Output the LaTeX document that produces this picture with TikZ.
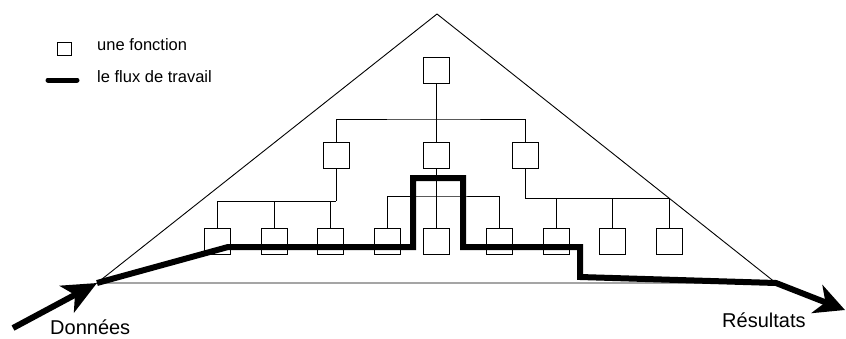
\documentclass[tikz,border=0pt]{standalone}
\usepackage{fontspec}
\setmainfont{Liberation Sans}
\usetikzlibrary{arrows.meta}
\begin{document}
\begin{tikzpicture}[x=1pt,y=-1pt,
  fbox/.style={draw,line width=1pt,minimum size=26pt,inner sep=0pt},
  thin/.style={line width=0.9pt},
  flow/.style={line width=6pt,line join=miter},
  lbl/.style={inner sep=0pt,font=\fontsize{20}{22}\selectfont},
  leg/.style={inner sep=0pt,anchor=west,font=\fontsize{16.5}{18}\selectfont}]
\useasboundingbox (0,0) rectangle (846,338);
% triangle
\coordinate (apex) at (437,14);
\coordinate (L) at (97,283);
\coordinate (R) at (776,283);
\draw[thin] (apex) -- (L) -- (R) -- cycle;
% functions
\node[fbox] (t) at (436,70) {};
\node[fbox] (m1) at (336,155) {};
\node[fbox] (m2) at (436,155) {};
\node[fbox] (m3) at (525,155) {};
\foreach \i/\x in {1/217,2/274,3/330.5,4/387,5/436,6/499.5,7/556,8/612.5,9/669.5}
  \node[fbox] (b\i) at (\x,241) {};
% tree connectors
\coordinate (bus0) at (436,119);
\coordinate (busL) at (336,201);
\coordinate (busM) at (436,196);
\coordinate (busR) at (525,198);
\draw[thin] (t.south) -- (m2.north);
\draw[thin] (m1.north) |- (bus0) -| (m3.north);
\draw[thin] (m1.south) -- (busL);
\draw[thin] (b1.north) |- (busL);
\draw[thin] (b2.north) -- (b2.north |- busL);
\draw[thin] (b3.north) -- (b3.north |- busL);
\draw[thin] (m2.south) -- (b5.north);
\draw[thin] (b4.north) |- (busM) -| (b6.north);
\draw[thin] (m3.south) |- (busR) -| (b9.north);
\draw[thin] (b7.north) -- (b7.north |- busR);
\draw[thin] (b8.north) -- (b8.north |- busR);
% workflow
\coordinate (in) at (13,328);
\coordinate (f1) at (228,247);
\coordinate (f2) at (413,247);
\coordinate (f3) at (413,178);
\coordinate (f4) at (463,178);
\coordinate (f5) at (463,247);
\coordinate (f6) at (580,247);
\coordinate (f7) at (580,277);
\coordinate (out) at (845,310);
\draw[flow,-{Stealth[length=34pt,width=30pt,inset=9pt]}] (in) -- (L);
\draw[flow,-{Stealth[length=30pt,width=30pt,inset=9pt]}] (L) -- (f1) -- (f2) -- (f3) -- (f4) -- (f5) -- (f6) -- (f7) -- (R) -- (out);
% labels
\node[lbl,anchor=base west] (don) at (50,334) {Données};
\node[lbl,anchor=base west] (res) at (722,327) {Résultats};
% legend
\node[draw,line width=1pt,minimum width=14pt,minimum height=13pt,inner sep=0pt] (lb) at (64,49) {};
\node[leg,anchor=base west] (lt1) at (97,50) {une fonction};
\coordinate (la) at (48,80);
\coordinate (lz) at (77,80);
\draw[line width=5pt,line cap=round] (la) -- (lz);
\node[leg,anchor=base west] (lt2) at (97,82) {le flux de travail};
\end{tikzpicture}
\end{document}
